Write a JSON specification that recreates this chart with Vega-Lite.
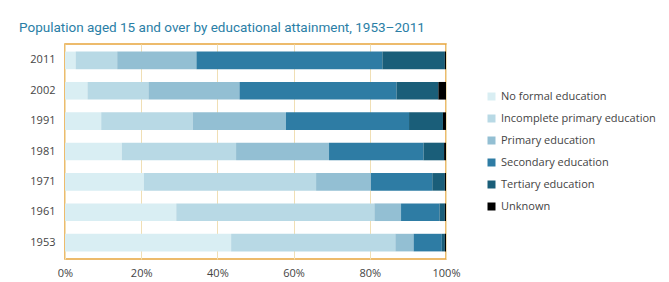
{
  "$schema": "https://vega.github.io/schema/vega-lite/v6.json",
  "width": 381,
  "height": 215,
  "autosize": {"type": "none"},
  "padding": {"left": 65, "top": 44, "right": 223, "bottom": 23},
  "background": "white",
  "title": {
    "text": "Population aged 15 and over by educational attainment, 1953–2011",
    "anchor": "start",
    "frame": "group",
    "dx": -46,
    "offset": 10,
    "font": "Roboto",
    "fontSize": 13.5,
    "fontWeight": "normal",
    "color": "#2a7ea6"
  },
  "data": {
    "values": [
      {"year": "2011", "cat": "No formal education", "k": 1, "v": 2.8},
      {"year": "2011", "cat": "Incomplete primary education", "k": 2, "v": 10.9},
      {"year": "2011", "cat": "Primary education", "k": 3, "v": 20.8},
      {"year": "2011", "cat": "Secondary education", "k": 4, "v": 48.8},
      {"year": "2011", "cat": "Tertiary education", "k": 5, "v": 16.4},
      {"year": "2011", "cat": "Unknown", "k": 6, "v": 0.3},
      {"year": "2002", "cat": "No formal education", "k": 1, "v": 5.9},
      {"year": "2002", "cat": "Incomplete primary education", "k": 2, "v": 16.0},
      {"year": "2002", "cat": "Primary education", "k": 3, "v": 23.9},
      {"year": "2002", "cat": "Secondary education", "k": 4, "v": 41.2},
      {"year": "2002", "cat": "Tertiary education", "k": 5, "v": 11.0},
      {"year": "2002", "cat": "Unknown", "k": 6, "v": 2.0},
      {"year": "1991", "cat": "No formal education", "k": 1, "v": 9.5},
      {"year": "1991", "cat": "Incomplete primary education", "k": 2, "v": 24.0},
      {"year": "1991", "cat": "Primary education", "k": 3, "v": 24.5},
      {"year": "1991", "cat": "Secondary education", "k": 4, "v": 32.3},
      {"year": "1991", "cat": "Tertiary education", "k": 5, "v": 8.9},
      {"year": "1991", "cat": "Unknown", "k": 6, "v": 0.8},
      {"year": "1981", "cat": "No formal education", "k": 1, "v": 14.9},
      {"year": "1981", "cat": "Incomplete primary education", "k": 2, "v": 30.0},
      {"year": "1981", "cat": "Primary education", "k": 3, "v": 24.4},
      {"year": "1981", "cat": "Secondary education", "k": 4, "v": 24.8},
      {"year": "1981", "cat": "Tertiary education", "k": 5, "v": 5.4},
      {"year": "1981", "cat": "Unknown", "k": 6, "v": 0.5},
      {"year": "1971", "cat": "No formal education", "k": 1, "v": 20.7},
      {"year": "1971", "cat": "Incomplete primary education", "k": 2, "v": 45.2},
      {"year": "1971", "cat": "Primary education", "k": 3, "v": 14.4},
      {"year": "1971", "cat": "Secondary education", "k": 4, "v": 16.1},
      {"year": "1971", "cat": "Tertiary education", "k": 5, "v": 3.3},
      {"year": "1971", "cat": "Unknown", "k": 6, "v": 0.3},
      {"year": "1961", "cat": "No formal education", "k": 1, "v": 29.2},
      {"year": "1961", "cat": "Incomplete primary education", "k": 2, "v": 52.0},
      {"year": "1961", "cat": "Primary education", "k": 3, "v": 7.0},
      {"year": "1961", "cat": "Secondary education", "k": 4, "v": 10.1},
      {"year": "1961", "cat": "Tertiary education", "k": 5, "v": 1.4},
      {"year": "1961", "cat": "Unknown", "k": 6, "v": 0.3},
      {"year": "1953", "cat": "No formal education", "k": 1, "v": 43.6},
      {"year": "1953", "cat": "Incomplete primary education", "k": 2, "v": 43.1},
      {"year": "1953", "cat": "Primary education", "k": 3, "v": 4.8},
      {"year": "1953", "cat": "Secondary education", "k": 4, "v": 7.4},
      {"year": "1953", "cat": "Tertiary education", "k": 5, "v": 0.8},
      {"year": "1953", "cat": "Unknown", "k": 6, "v": 0.3}
    ]
  },
  "mark": {"type": "bar"},
  "encoding": {
    "y": {
      "field": "year",
      "type": "ordinal",
      "sort": "descending",
      "scale": {"paddingInner": 0.42, "paddingOuter": 0.25},
      "axis": {
        "title": null,
        "domain": false,
        "ticks": false,
        "labelPadding": 10,
        "labelFont": "Open Sans",
        "labelFontSize": 11,
        "labelColor": "#444444"
      }
    },
    "x": {
      "field": "v",
      "type": "quantitative",
      "stack": "normalize",
      "scale": {"domain": [0, 1], "nice": false},
      "axis": {
        "title": null,
        "format": "%",
        "values": [0, 0.2, 0.4, 0.6, 0.8, 1],
        "domain": false,
        "ticks": false,
        "labelPadding": 8,
        "labelFont": "Open Sans",
        "labelFontSize": 11,
        "labelColor": "#444444",
        "grid": true,
        "gridColor": "#f0dfb5",
        "gridWidth": 1,
        "labelFlush": false
      }
    },
    "color": {
      "field": "cat",
      "type": "nominal",
      "sort": ["No formal education", "Incomplete primary education", "Primary education", "Secondary education", "Tertiary education", "Unknown"],
      "scale": {
        "domain": ["No formal education", "Incomplete primary education", "Primary education", "Secondary education", "Tertiary education", "Unknown"],
        "range": ["#d9eef3", "#b8d9e5", "#93bfd3", "#2e7ca4", "#1a5e79", "#000000"]
      },
      "legend": {
        "title": null,
        "orient": "none",
        "legendX": 421,
        "legendY": 47,
        "symbolType": "square",
        "symbolSize": 64,
        "symbolStrokeWidth": 0,
        "rowPadding": 10,
        "labelFont": "Open Sans",
        "labelFontSize": 11,
        "labelColor": "#444444",
        "labelLimit": 300,
        "labelOffset": 4
      }
    },
    "order": {"field": "k", "type": "quantitative"}
  },
  "config": {
    "view": {"stroke": "#e8a53c", "strokeWidth": 1.5}
  }
}
